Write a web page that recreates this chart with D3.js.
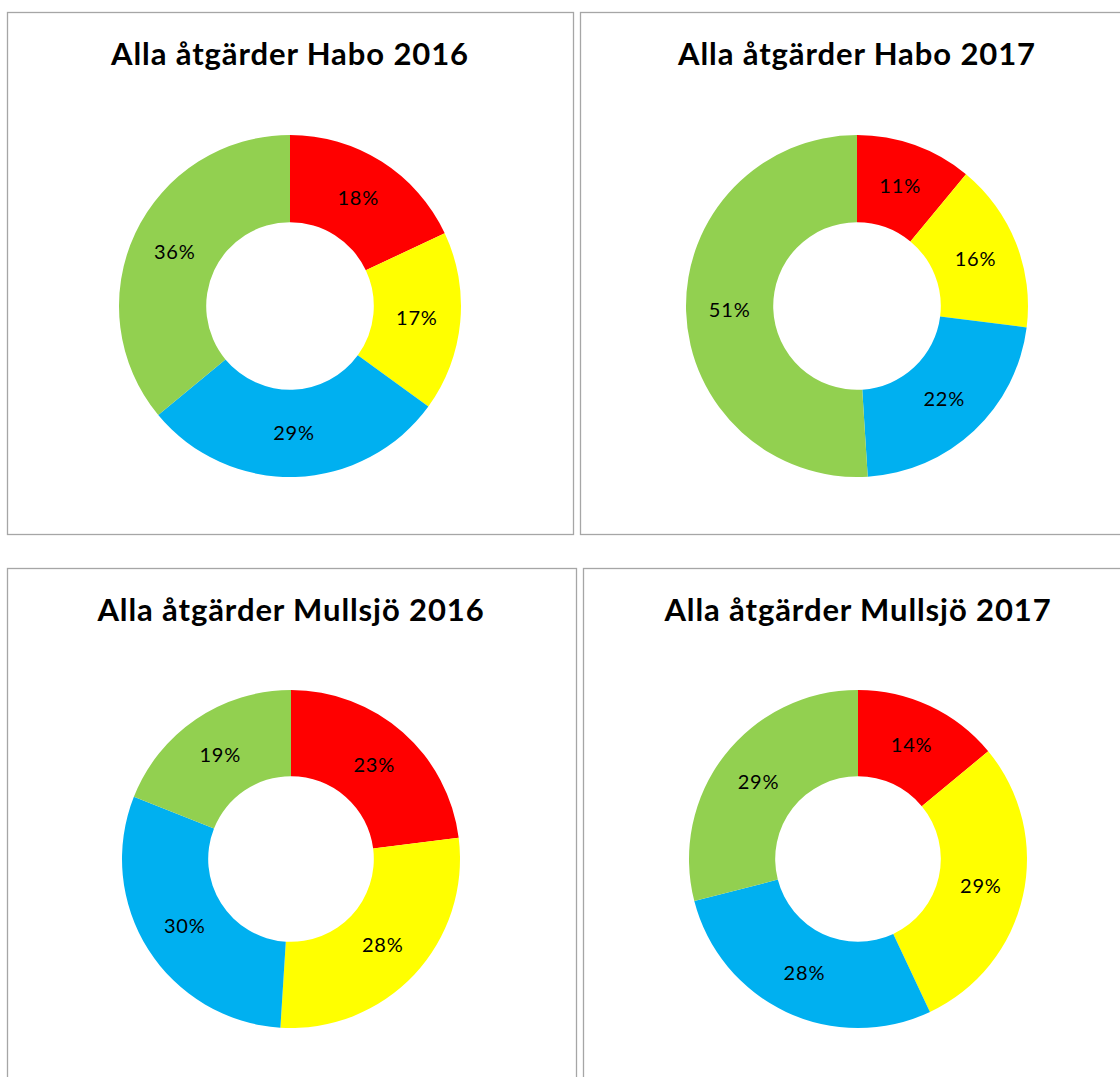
<!DOCTYPE html>
<html>
<head>
<meta charset="utf-8">
<script src="https://cdn.jsdelivr.net/npm/d3@7"></script>
<style>
  body { margin: 0; background: #fff; }
  svg { display: block; }
</style>
</head>
<body>
<svg id="chart"></svg>
<script>
// Kategorier (medurs från kl 12) och färger
const categories = ["Röd", "Gul", "Blå", "Grön"];
const colors = ["#FF0000", "#FFFF00", "#00B0F0", "#92D050"];

// Titlar
const titles = [
  "Alla åtgärder Habo 2016",
  "Alla åtgärder Habo 2017",
  "Alla åtgärder Mullsjö 2016",
  "Alla åtgärder Mullsjö 2017"
];

// Andelar i procent
const habo2016 = [18, 17, 29, 36];
const habo2017 = [11, 16, 22, 51];
const mullsjo2016 = [23, 28, 30, 19];
const mullsjo2017 = [14, 29, 28, 29];

const width = 1120;
const height = 1077;

// Panelernas ramar
const panels = [
  { x: 7.5, y: 12.5, w: 566, h: 522, cx: 290, cy: 306, r: 171 },
  { x: 580.5, y: 12.5, w: 560, h: 522, cx: 857, cy: 306, r: 171 },
  { x: 7.5, y: 568.5, w: 569, h: 530, cx: 291, cy: 859, r: 169 },
  { x: 583.5, y: 568.5, w: 560, h: 530, cx: 858, cy: 859, r: 169 }
];
const seriesList = [habo2016, habo2017, mullsjo2016, mullsjo2017];

const svg = d3.select("#chart")
  .attr("width", width)
  .attr("height", height);

const pie = d3.pie().sort(null).value(d => d);

panels.forEach((p, i) => {
  const g = svg.append("g");

  g.append("rect")
    .attr("x", p.x)
    .attr("y", p.y)
    .attr("width", p.w)
    .attr("height", p.h)
    .attr("fill", "#fff")
    .attr("stroke", "#a6a6a6")
    .attr("stroke-width", 1.3);

  g.append("text")
    .attr("x", p.cx)
    .attr("y", p.y + 52.5)
    .attr("text-anchor", "middle")
    .attr("font-family", "Lato, 'Open Sans', sans-serif")
    .attr("font-weight", "bold")
    .attr("font-size", 31)
    .attr("letter-spacing", 0.9)
    .attr("fill", "#000")
    .text(titles[i]);

  const arc = d3.arc().innerRadius(p.r * 0.49).outerRadius(p.r);
  const data = pie(seriesList[i]);

  const chart = g.append("g").attr("transform", `translate(${p.cx},${p.cy})`);

  chart.selectAll("path")
    .data(data)
    .enter()
    .append("path")
    .attr("d", arc)
    .attr("fill", (d, j) => colors[j]);

  chart.selectAll("text")
    .data(data)
    .enter()
    .append("text")
    .attr("transform", d => `translate(${arc.centroid(d)})`)
    .attr("text-anchor", "middle")
    .attr("dy", "0.35em")
    .attr("font-family", "Lato, 'Open Sans', sans-serif")
    .attr("font-size", 20)
    .attr("letter-spacing", 0.8)
    .attr("fill", "#000")
    .text(d => d.data + "%");
});
</script>
</body>
</html>
